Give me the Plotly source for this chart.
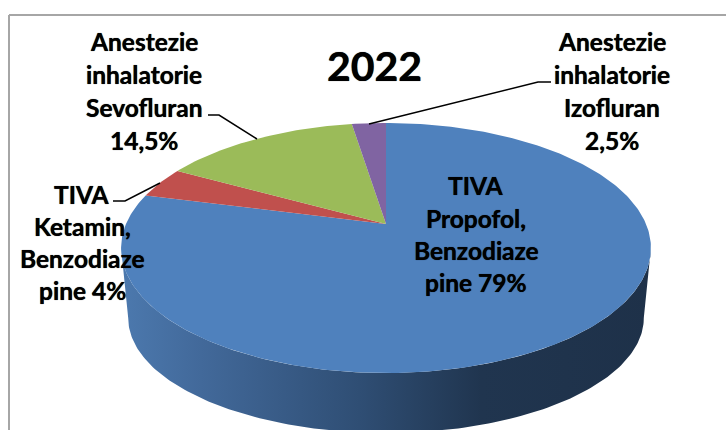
import numpy as np
import plotly.graph_objects as go

# ---- data ----
title = "2022"
categories = ["TIVA Propofol, Benzodiazepine", "TIVA Ketamin, Benzodiazepine",
              "Anestezie inhalatorie Sevofluran", "Anestezie inhalatorie Izofluran"]
values = [79, 4, 14.5, 2.5]
colors = ["#4F81BD", "#C0504D", "#9BBB59", "#8064A2"]
label_lines = [
    ["TIVA", "Propofol,", "Benzodiaze", "pine 79%"],
    ["TIVA", "Ketamin,", "Benzodiaze", "pine 4%"],
    ["Anestezie", "inhalatorie", "Sevofluran", "14,5%"],
    ["Anestezie", "inhalatorie", "Izofluran", "2,5%"],
]

# ---- layout of the drawing (pixels) ----
W, H = 726, 430
CX = 386
K = 0.192
TOP = dict(a=260, b=120.4, y0=224)
BOTTOM = dict(a=253, b=110.7, y0=296)
label_pos = [
    (476, [185, 218, 250, 282]),
    (82, [194, 226, 258, 290]),
    (144, [41, 74, 107, 140]),
    (612, [41, 74, 107, 140]),
]
leaders = [
    ([208, 219, 257], [115, 115, 139]),
    ([113, 125, 160], [201, 201, 183]),
    ([551, 538, 369], [82, 82, 124]),
]
side_scale = [[0, "#4C79AE"], [0.15, "#42699A"], [0.45, "#2F4E74"],
              [0.68, "#20354F"], [1, "#1E3149"]]
text_shadow = "0 0 0.7px black"


def rim(theta, p):
    """Perspective projection of a point of the tilted pie (theta clockwise from top)."""
    x, y = np.sin(theta), np.cos(theta)
    d = 1 + K * y
    return CX + p["a"] * x / d, p["y0"] - p["b"] * y / d


fig = go.Figure()

# side wall: front part of top rim + front part of bottom rim
t_ext = np.arccos(-K)
th = np.linspace(t_ext, 2 * np.pi - t_ext, 160)
x1, y1 = rim(th, TOP)
x2, y2 = rim(th[::-1], BOTTOM)
fig.add_trace(go.Scatter(
    x=np.r_[x1, x2], y=np.r_[y1, y2], mode="lines", line=dict(width=0),
    fill="toself", hoverinfo="skip", showlegend=False,
    fillgradient=dict(type="horizontal", colorscale=side_scale),
))

# top slices, clockwise from the top
fractions = np.array(values) / sum(values)
start = 0.0
for name, frac, col in zip(categories, fractions, colors):
    end = start + frac
    th = 2 * np.pi * np.linspace(start, end, max(int(frac * 400), 12))
    xs, ys = rim(th, TOP)
    ax, ay = rim(np.array([0.0]), dict(TOP, a=0, b=0))
    fig.add_trace(go.Scatter(
        x=np.r_[ax, xs, ax], y=np.r_[ay, ys, ay], mode="lines",
        line=dict(width=0), fill="toself", fillcolor=col,
        name=name, showlegend=False, hoverinfo="name",
    ))
    start = end

# leader lines
for lx, ly in leaders:
    fig.add_trace(go.Scatter(x=lx, y=ly, mode="lines", line=dict(color="black", width=1.5),
                             hoverinfo="skip", showlegend=False))

# labels: each line is placed on its own to get the wide line spacing
annotations = [dict(x=374, y=65, text=f"<b>{title}</b>", showarrow=False, xref="x", yref="y",
                    font=dict(family="Lato", size=41, color="black", shadow=text_shadow))]
for lines, (lx, lys) in zip(label_lines, label_pos):
    for line, ly in zip(lines, lys):
        annotations.append(dict(x=lx, y=ly, text=f"<b>{line}</b>", showarrow=False, xref="x", yref="y",
                                font=dict(family="Lato", size=24.5, color="black", shadow=text_shadow)))

frame = dict(type="line", xref="x", yref="y", line=dict(color="#A6A6A6", width=2))
fig.update_layout(
    width=W, height=H, margin=dict(l=0, r=0, t=0, b=0),
    paper_bgcolor="white", plot_bgcolor="white", showlegend=False,
    xaxis=dict(range=[0, W], visible=False, fixedrange=True),
    yaxis=dict(range=[H, 0], visible=False, fixedrange=True),
    annotations=annotations,
    shapes=[dict(frame, x0=9, x1=W, y0=15, y1=15), dict(frame, x0=9, x1=9, y0=15, y1=H)],
)
fig.write_html("out.html", config={"displayModeBar": False},
               post_script="document.body.style.margin='0';document.documentElement.style.overflow='hidden';")
